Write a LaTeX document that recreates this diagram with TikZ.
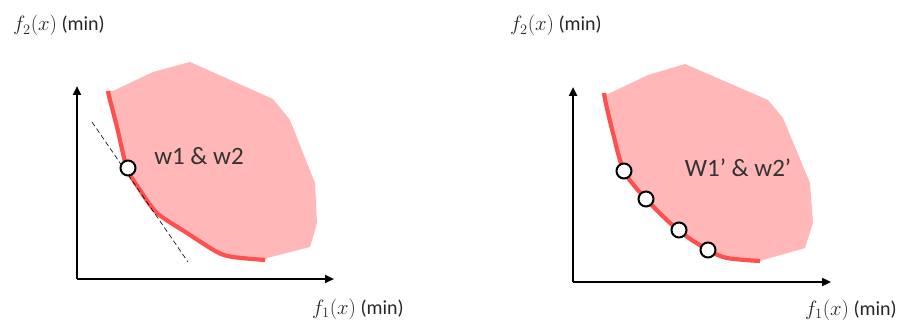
\documentclass[tikz,border=0pt]{standalone}
\usepackage{fontspec}
\setmainfont{Carlito}
\usetikzlibrary{arrows.meta}
\definecolor{regionpink}{HTML}{FFB7B7}
\definecolor{frontred}{HTML}{FF5050}
\tikzset{
  axis/.style={line width=2.4pt,-{Triangle[length=9pt,width=8pt]}},
  front/.style={frontred,line width=4.2pt},
  region/.style={fill=regionpink},
  sol/.style={circle,draw=black,fill=white,line width=2pt,minimum size=15pt,inner sep=0pt},
  axlabel/.style={anchor=base west,inner sep=0pt,font=\fontsize{20}{24}\selectfont,text=black!85},
  wlabel/.style={font=\fontsize{25}{30}\selectfont,text=black!80}
}
\begin{document}
\begin{tikzpicture}[x=1pt,y=-1pt]
\useasboundingbox (0,0) rectangle (905,323);
% ---------- left panel ----------
\fill[region] (113,91) -- (153,72) -- (190,62) -- (273,99) -- (290,120) -- (315,183) -- (317,223) -- (310,247) -- (267,258) -- (265,260)
  -- plot[smooth] coordinates {(265,260) (233,257) (217,252) (187,233) (157,213) (140,190) (127,168) (117,127) (110,100) (108,91)} -- cycle;
\draw[front] plot[smooth] coordinates {(108,91) (110,100) (117,127) (127,168) (140,190) (157,213) (187,233) (217,252) (233,257) (265,260)};
\coordinate (dA) at (92,122);
\coordinate (dB) at (188,262);
\draw[line width=0.6pt,dash pattern=on 5pt off 3pt] (dA) -- (dB);
\node[sol] (p0) at (128,168) {};
\coordinate (o1) at (77,279);
\coordinate (y1) at (77,86);
\coordinate (x1) at (334,279);
\draw[axis] (o1) -- (y1);
\draw[axis] (o1) -- (x1);
\node[wlabel] (w1) at (199,156) {w1 \& w2};
\node[axlabel] (l1y) at (13,31) {$f_2(x)$ (min)};
\node[axlabel] (l1x) at (312,314) {$f_1(x)$ (min)};
% ---------- right panel ----------
\fill[region] (608,94) -- (648,75) -- (685,64) -- (768,100) -- (783,118) -- (810,183) -- (813,223) -- (805,248) -- (763,260) -- (760,261)
  -- plot[smooth] coordinates {(760,261) (727,258) (708,250) (678,230) (646,199) (624,171) (613,133) (606,104) (604,93)} -- cycle;
\draw[front] plot[smooth] coordinates {(604,93) (606,104) (613,133) (624,171) (646,199) (678,230) (708,250) (727,258) (760,261)};
\node[sol] (q1) at (624,171) {};
\node[sol] (q2) at (646,199) {};
\node[sol] (q3) at (679,230) {};
\node[sol] (q4) at (708,250) {};
\coordinate (o2) at (573,282);
\coordinate (y2) at (573,87);
\coordinate (x2) at (831,282);
\draw[axis] (o2) -- (y2);
\draw[axis] (o2) -- (x2);
\node[wlabel] (w2) at (738,168) {W1’ \& w2’};
\node[axlabel] (l2y) at (510,31) {$f_2(x)$ (min)};
\node[axlabel] (l2x) at (805,315) {$f_1(x)$ (min)};
\end{tikzpicture}
\end{document}
